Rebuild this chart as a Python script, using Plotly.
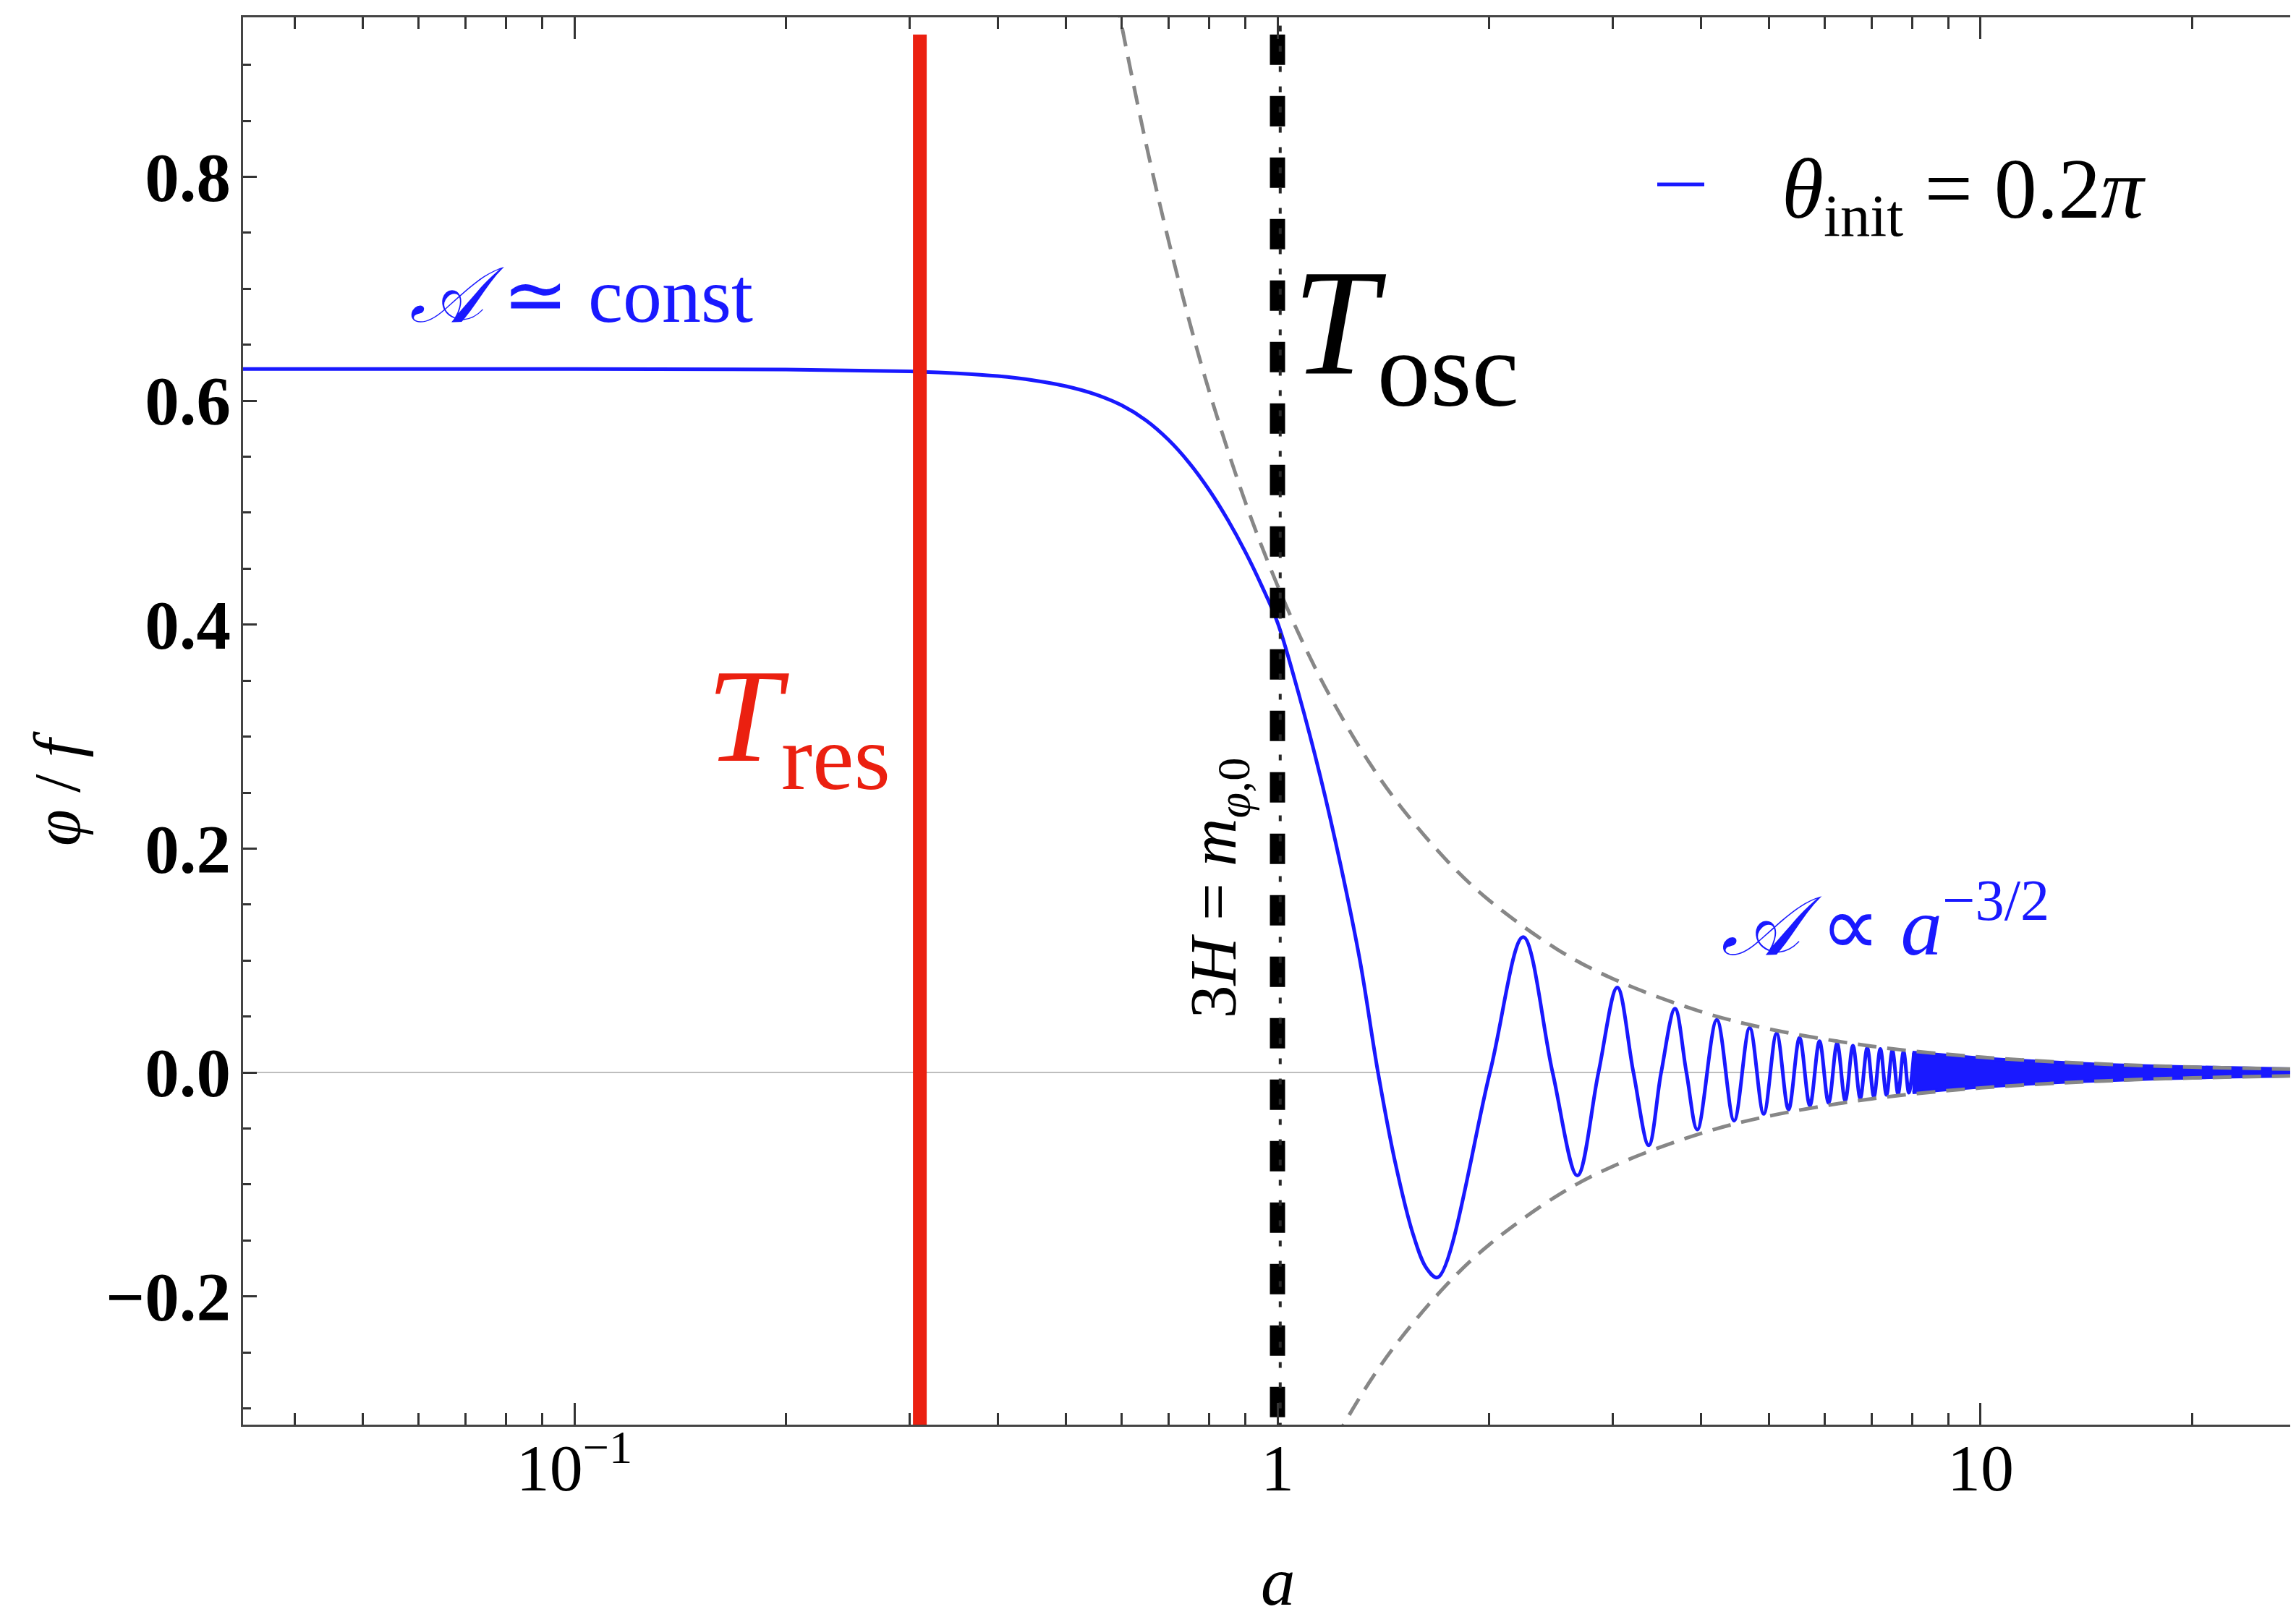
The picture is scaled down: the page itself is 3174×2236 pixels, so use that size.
import math
import plotly.graph_objects as go

# ---------------- data ----------------
# phi/f before and through the onset of oscillation
a_onset = [0.0333, 0.1, 0.2, 0.3, 0.35, 0.4, 0.45, 0.5, 0.55, 0.6, 0.65, 0.7, 0.75, 0.8,
           0.85, 0.9, 0.95, 1.0, 1.07, 1.15, 1.23, 1.31, 1.39, 1.47, 1.56, 1.63, 1.69]
phi_onset = [0.6283, 0.6283, 0.6279, 0.6262, 0.6245, 0.6220, 0.6182, 0.6130, 0.6058,
             0.5960, 0.5825, 0.5650, 0.5440, 0.5200, 0.4935, 0.4650, 0.4345, 0.4020,
             0.340, 0.265, 0.185, 0.100, 0.0, -0.080, -0.145, -0.175, -0.183]

# resolved oscillations (zero crossings, then extrema)
a_osc = [2.005, 2.236, 2.462, 2.670, 2.861, 3.043, 3.208, 3.373, 3.513, 3.676, 3.816,
         3.955, 4.215, 4.461, 4.694, 4.915, 5.127, 5.331, 5.527, 5.717, 5.900, 6.078,
         6.251, 6.419, 6.583, 6.742, 6.899, 7.051, 7.201, 7.347, 7.491, 7.632, 7.770,
         7.906, 8.039]
phi_osc = [0.0, 0.121, 0.0, -0.092, 0.0, 0.076, 0.0, -0.065, 0.0, 0.057, 0.0,
           -0.051, 0.047, -0.043, 0.040, -0.037, 0.035, -0.033, 0.031, -0.0295, 0.028, -0.027,
           0.026, -0.025, 0.024, -0.023, 0.022, -0.0215, 0.021, -0.020, 0.0197, -0.019, 0.0186,
           -0.018, 0.0177]

# unresolved dense oscillation: half-height of the blue band
a_band = [8.0, 8.5, 9.0, 10.0, 11.0, 12.0, 13.5, 15.0, 18.0, 22.0, 26.0, 30.0]
band_half = [0.0178, 0.0163, 0.0149, 0.0127, 0.0110, 0.0097, 0.0081, 0.0069, 0.0053,
             0.0039, 0.0030, 0.0025]

# gray dashed envelope  A ~ a^(-3/2)
a_env = [0.58, 0.6, 0.65, 0.7, 0.75, 0.8, 0.9, 1.0, 1.1, 1.2, 1.35, 1.5, 1.75, 2.0, 2.5,
         3.0, 4.0, 5.0, 7.0, 10.0, 15.0, 20.0, 30.0]
env_up = [0.985, 0.936, 0.830, 0.743, 0.670, 0.608, 0.5095, 0.435, 0.377, 0.331, 0.277,
          0.2368, 0.1879, 0.1538, 0.110, 0.0837, 0.0544, 0.0389, 0.0235, 0.01376, 0.00749,
          0.00486, 0.00265]

# vertical markers
a_res = 0.31      # T_res
a_osc_line = 1.0  # T_osc, 3H = m
y_line = [0.927, -0.3145]

# axis settings
x_range_log = [-1.4712, 1.4568]
y_range = [-0.3145, 0.9424]
x_tickvals = [0.1, 1, 10]
x_ticktext = ["10<sup>\u22121</sup>", "1", "10"]
x_minor = [0.04, 0.05, 0.06, 0.07, 0.08, 0.09, 0.2, 0.3, 0.4, 0.5, 0.6, 0.7, 0.8, 0.9,
           2, 3, 4, 5, 6, 7, 8, 9, 20]
y_tickvals = [-0.2, 0.0, 0.2, 0.4, 0.6, 0.8]
y_ticktext = ["\u22120.2", "0.0", "0.2", "0.4", "0.6", "0.8"]
y_minor = [-0.3, -0.25, -0.15, -0.1, -0.05, 0.05, 0.1, 0.15, 0.25, 0.3, 0.35, 0.45, 0.5,
           0.55, 0.65, 0.7, 0.75, 0.85, 0.9]

legend_label = "<i>\u03b8</i><sub>init</sub> = 0.2<i>\u03c0</i>"

BLUE = "rgb(25,25,255)"
RED = "rgb(235,32,16)"
GRAY = "rgb(135,135,135)"
SERIF = "Liberation Serif"

fig = go.Figure()

# main field curve
fig.add_trace(go.Scatter(
    x=a_onset + a_osc, y=phi_onset + phi_osc, mode="lines",
    line=dict(color=BLUE, width=5, shape="spline", smoothing=1.0),
    name=legend_label, showlegend=False))

# dense oscillation band
fig.add_trace(go.Scatter(
    x=a_band + a_band[::-1], y=band_half + [-v for v in band_half[::-1]],
    mode="lines", fill="toself", fillcolor=BLUE,
    line=dict(color=BLUE, width=5), showlegend=False, hoverinfo="skip"))

# envelopes
fig.add_trace(go.Scatter(x=a_env, y=env_up, mode="lines",
                         line=dict(color=GRAY, width=5, dash="26px,15px", shape="spline"),
                         showlegend=False))
fig.add_trace(go.Scatter(x=a_env, y=[-v for v in env_up], mode="lines",
                         line=dict(color=GRAY, width=5, dash="26px,15px", shape="spline"),
                         showlegend=False))

# T_res red line
fig.add_trace(go.Scatter(x=[a_res, a_res], y=y_line, mode="lines",
                         line=dict(color=RED, width=19), showlegend=False))

# T_osc black dashed line + thin dot-dashed line
fig.add_trace(go.Scatter(x=[a_osc_line, a_osc_line], y=y_line, mode="lines",
                         line=dict(color="black", width=21, dash="42px,43px"),
                         showlegend=False))
fig.add_trace(go.Scatter(x=[a_osc_line * 1.009, a_osc_line * 1.009], y=[0.935, -0.3145],
                         mode="lines",
                         line=dict(color="rgb(40,40,40)", width=4, dash="8px,20px"),
                         showlegend=False))

# plot-area geometry (pixels) used for paper placement of legend and titles
W, H = 3174, 2236
ML, MR, MT, MB = 328, 0, 16, 274
pw, ph = W - ML - MR, H - MT - MB


def px(xp):
    return (xp - ML) / pw


def py(yp):
    return (H - MB - yp) / ph


annotations = [
    dict(x=math.log10(0.0580), y=0.694, xref="x", yref="y", xanchor="left", yanchor="middle",
         text="<i>\U0001D49C</i> \u2243 const", showarrow=False,
         font=dict(family=SERIF, size=108, color=BLUE)),
    dict(x=math.log10(1.045), y=0.66, xref="x", yref="y", xanchor="left", yanchor="middle",
         text="<i>T</i><sub>osc</sub>", showarrow=False,
         font=dict(family=SERIF, size=210, color="black")),
    dict(x=math.log10(0.2829), y=0.31, xref="x", yref="y", xanchor="right", yanchor="middle",
         text="<i>T</i><sub>res</sub>", showarrow=False,
         font=dict(family=SERIF, size=185, color=RED)),
    dict(x=math.log10(0.823), y=0.165, xref="x", yref="y", xanchor="center", yanchor="middle",
         text="3<i>H</i> = <i>m</i><sub><i>\u03c6</i>,0</sub>", textangle=-90, showarrow=False,
         font=dict(family=SERIF, size=92, color="black")),
    dict(x=math.log10(4.25), y=0.136, xref="x", yref="y", xanchor="left", yanchor="middle",
         text="<i>\U0001D49C</i> \u221d <i>a</i><sup>\u22123/2</sup>", showarrow=False,
         font=dict(family=SERIF, size=115, color=BLUE)),
    # legend text
    dict(x=px(2453), y=py(262), xref="paper", yref="paper", xanchor="left", yanchor="middle",
         text=legend_label, showarrow=False,
         font=dict(family=SERIF, size=118, color="black")),
    # axis titles
    dict(x=px(1759), y=py(2234), xref="paper", yref="paper", xanchor="center",
         yanchor="bottom", text="<i>a</i>", showarrow=False,
         font=dict(family=SERIF, size=95, color="black")),
    dict(x=px(71), y=py(1083), xref="paper", yref="paper", xanchor="center",
         yanchor="middle", text="<i>\u03c6</i> / <i>f</i>", textangle=-90, showarrow=False,
         font=dict(family=SERIF, size=92, color="black")),
]

shapes = [
    dict(type="line", xref="paper", yref="paper", x0=px(2283), x1=px(2348),
         y0=py(247), y1=py(247), line=dict(color=BLUE, width=5)),
]

fig.update_layout(
    width=W, height=H,
    margin=dict(l=ML, r=MR, t=MT, b=MB),
    paper_bgcolor="white", plot_bgcolor="white",
    font=dict(family=SERIF, color="black", size=95),
    annotations=annotations, shapes=shapes,
    showlegend=False,
    xaxis=dict(type="log", range=x_range_log, tickmode="array", tickvals=x_tickvals,
               ticktext=x_ticktext, ticks="inside", ticklen=30, tickwidth=3,
               tickcolor="#333", showline=True, linecolor="#444", linewidth=3,
               mirror="ticks", showgrid=False, zeroline=False, automargin=False,
               ticklabelstandoff=-22, tickfont=dict(size=92),
               minor=dict(tickmode="array", tickvals=x_minor, ticks="inside", ticklen=16,
                          tickwidth=2.5, tickcolor="#333", showgrid=False)),
    yaxis=dict(range=y_range, tickmode="array", tickvals=y_tickvals, ticktext=y_ticktext,
               ticks="inside", ticklen=19, tickwidth=3, tickcolor="#333",
               showline=True, linecolor="#444", linewidth=3, mirror=False, automargin=False,
               showgrid=False, zeroline=True, zerolinecolor="rgb(190,190,190)",
               zerolinewidth=2, ticklabelstandoff=-5,
               tickfont=dict(size=95, weight="bold"),
               minor=dict(tickmode="array", tickvals=y_minor, ticks="inside", ticklen=11,
                          tickwidth=2.5, tickcolor="#333", showgrid=False)),
)

fig.write_html("out.html")
